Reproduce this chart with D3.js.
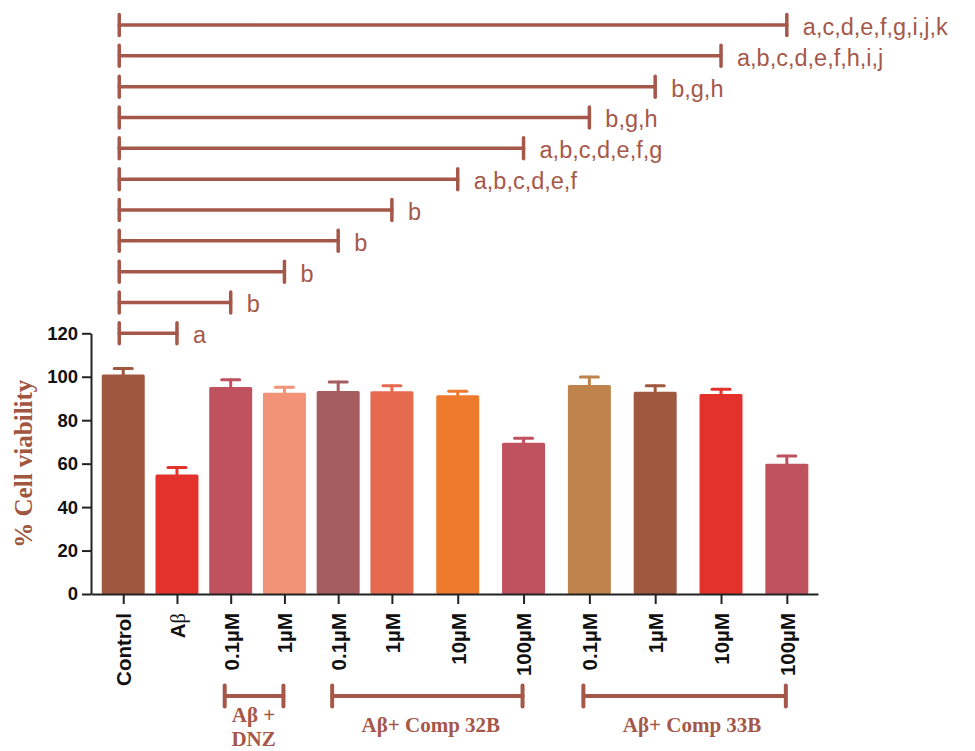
<!DOCTYPE html>
<html>
<head>
<meta charset="utf-8">
<script src="https://cdn.jsdelivr.net/npm/d3@7"></script>
<style>
  body { margin: 0; background: #fff; }
  svg { display: block; }
</style>
</head>
<body>
<svg id="chart" width="975" height="751"></svg>
<script>
// ---- data ----
const categories = ["Control", "Aβ", "0.1µM", "1µM", "0.1µM", "1µM", "10µM", "100µM", "0.1µM", "1µM", "10µM", "100µM"];
const viability  = [101.0, 55.0, 95.3, 92.6, 93.4, 93.3, 91.5, 69.6, 96.2, 93.1, 92.1, 60.0];
const sem        = [2.8, 3.2, 3.3, 2.6, 4.2, 2.6, 1.8, 2.1, 3.7, 2.8, 2.1, 3.5];
const yTicks     = [0, 20, 40, 60, 80, 100, 120];

// treatment groups shown under the axis (first/last bar index)
const groupNames = [["Aβ +", "DNZ"], ["Aβ+ Comp 32B"], ["Aβ+ Comp 33B"]];
const groupFirst = [2, 4, 8];
const groupLast  = [3, 7, 11];

// significance comparisons, top row first: Control vs bar index
const compareTo      = [11, 10, 9, 8, 7, 6, 5, 4, 3, 2, 1];
const compareLetters = ["a,c,d,e,f,g,i,j,k", "a,b,c,d,e,f,h,i,j", "b,g,h", "b,g,h", "a,b,c,d,e,f,g",
                        "a,b,c,d,e,f", "b", "b", "b", "b", "a"];

// ---- styles ----
const barColors = ["#a0573f", "#e3322c", "#c0515e", "#f29277", "#a55d5f", "#e66a50",
                   "#ee7a2e", "#c0515e", "#bf844b", "#a0583f", "#e3322c", "#c0515e"];
const accent = "#a5584a";
const sans = "'Liberation Sans', Arial, Helvetica, sans-serif";
const serif = "'Liberation Serif', 'Times New Roman', Times, serif";

// bars after the DNZ block are spread a little wider
const slot = i => (i <= 5 ? i : 5 + (i - 5) * 1.225);

const svg = d3.select("#chart");

const x = d3.scaleLinear().domain([-0.6, 12.93]).range([91, 818]);
const y = d3.scaleLinear().domain([0, 120]).range([594, 333.3]);
const barW = 0.8 * (x(1) - x(0));

// ---- bars ----
svg.append("g").selectAll("rect")
  .data(viability)
  .join("rect")
  .attr("x", (d, i) => x(slot(i)) - barW / 2)
  .attr("y", d => y(d))
  .attr("width", barW)
  .attr("height", d => y(0) - y(d))
  .attr("rx", 1.5)
  .attr("fill", (d, i) => barColors[i]);

// ---- error bars (mean + SEM) ----
const err = svg.append("g").attr("stroke-width", 3).attr("stroke-linecap", "round");
viability.forEach((v, i) => {
  const cx = x(slot(i));
  err.append("line")
    .attr("x1", cx).attr("x2", cx)
    .attr("y1", y(v)).attr("y2", y(v + sem[i]))
    .attr("stroke", barColors[i]);
  err.append("line")
    .attr("x1", cx - 9).attr("x2", cx + 9)
    .attr("y1", y(v + sem[i])).attr("y2", y(v + sem[i]))
    .attr("stroke", barColors[i]);
});

// ---- y axis ----
const gy = svg.append("g")
  .attr("transform", `translate(${x.range()[0]},0)`)
  .call(d3.axisLeft(y).tickValues(yTicks).tickSize(9).tickPadding(4).tickSizeOuter(0));
gy.select(".domain").attr("stroke", "#222").attr("stroke-width", 2);
gy.selectAll(".tick line").attr("stroke", "#222").attr("stroke-width", 2);
gy.selectAll(".tick text")
  .attr("fill", "#111")
  .style("font-family", sans)
  .style("font-weight", "bold")
  .style("font-size", "18.5px");

svg.append("text")
  .attr("transform", `translate(23,${(y(0) + y(120)) / 2}) rotate(-90)`)
  .attr("text-anchor", "middle")
  .attr("dy", "0.35em")
  .attr("fill", "#a0563f")
  .style("font-family", serif)
  .style("font-weight", "bold")
  .style("font-size", "25px")
  .text("% Cell viability");

// ---- x axis ----
const gx = svg.append("g")
  .attr("transform", `translate(0,${y(0)})`)
  .call(d3.axisBottom(x)
    .tickValues(categories.map((c, i) => slot(i)))
    .tickFormat((d, i) => categories[i])
    .tickSize(10)
    .tickSizeOuter(0));
gx.select(".domain").attr("stroke", "#222").attr("stroke-width", 2);
gx.selectAll(".tick line").attr("stroke", "#222").attr("stroke-width", 2);
gx.selectAll(".tick text")
  .attr("transform", "rotate(-90)")
  .attr("x", -19)
  .attr("y", 0)
  .attr("dy", "0.36em")
  .attr("text-anchor", "end")
  .attr("fill", "#111")
  .style("font-family", sans)
  .style("font-weight", "bold")
  .style("font-size", "20.5px")
  .each(function (d, i) {
    const label = categories[i];
    const t = d3.select(this).text(null);
    label.split(/(β)/).filter(s => s).forEach(part => {
      const ts = t.append("tspan").text(part);
      if (part === "β") ts.style("font-weight", "normal").style("font-family", serif);
    });
  });

// ---- group brackets under the axis ----
const gBr = svg.append("g")
  .attr("stroke", accent)
  .attr("stroke-width", 4)
  .attr("stroke-linecap", "round")
  .attr("fill", "none");
const brY = 696;
groupNames.forEach((name, g) => {
  const x1 = x(slot(groupFirst[g])) - 6;
  const x2 = x(slot(groupLast[g])) - 1;
  gBr.append("line").attr("x1", x1).attr("x2", x2).attr("y1", brY).attr("y2", brY);
  gBr.append("line").attr("x1", x1).attr("x2", x1).attr("y1", brY - 10.5).attr("y2", brY + 10.5);
  gBr.append("line").attr("x1", x2).attr("x2", x2).attr("y1", brY - 10.5).attr("y2", brY + 10.5);

  const cx = (x(slot(groupFirst[g])) + x(slot(groupLast[g]))) / 2 + (g === 2 ? 4 : 0);
  const twoLines = name.length > 1;
  const firstBaseline = twoLines ? 722 : 732;
  // one text element per line keeps the two label lines apart
  name.forEach((line, k) => {
    svg.append("text")
      .attr("text-anchor", "middle")
      .attr("fill", accent)
      .style("font-family", serif)
      .style("font-weight", "bold")
      .style("font-size", "21px")
      .attr("x", cx - (twoLines ? 4 : 0))
      .attr("y", firstBaseline + k * 23.5)
      .text(line);
  });
});

// ---- significance brackets above the plot ----
const rowGap = 30.83;
const gSig = svg.append("g");
compareTo.forEach((k, r) => {
  const rowY = y(120) - (compareTo.length - 1 - r) * rowGap;
  const x1 = x(slot(0)) - 4;
  const x2 = x(slot(k));
  const g = gSig.append("g")
    .attr("stroke", accent)
    .attr("stroke-width", 3.5)
    .attr("stroke-linecap", "round");
  g.append("line").attr("x1", x1).attr("x2", x2).attr("y1", rowY).attr("y2", rowY);
  g.append("line").attr("x1", x1).attr("x2", x1).attr("y1", rowY - 10.5).attr("y2", rowY + 10.5);
  g.append("line").attr("x1", x2).attr("x2", x2).attr("y1", rowY - 10.5).attr("y2", rowY + 10.5);
  gSig.append("text")
    .attr("x", x2 + 16)
    .attr("y", rowY + 10)
    .attr("fill", accent)
    .style("font-family", sans)
    .style("font-size", "23.5px")
    .text(compareLetters[r]);
});
</script>
</body>
</html>
